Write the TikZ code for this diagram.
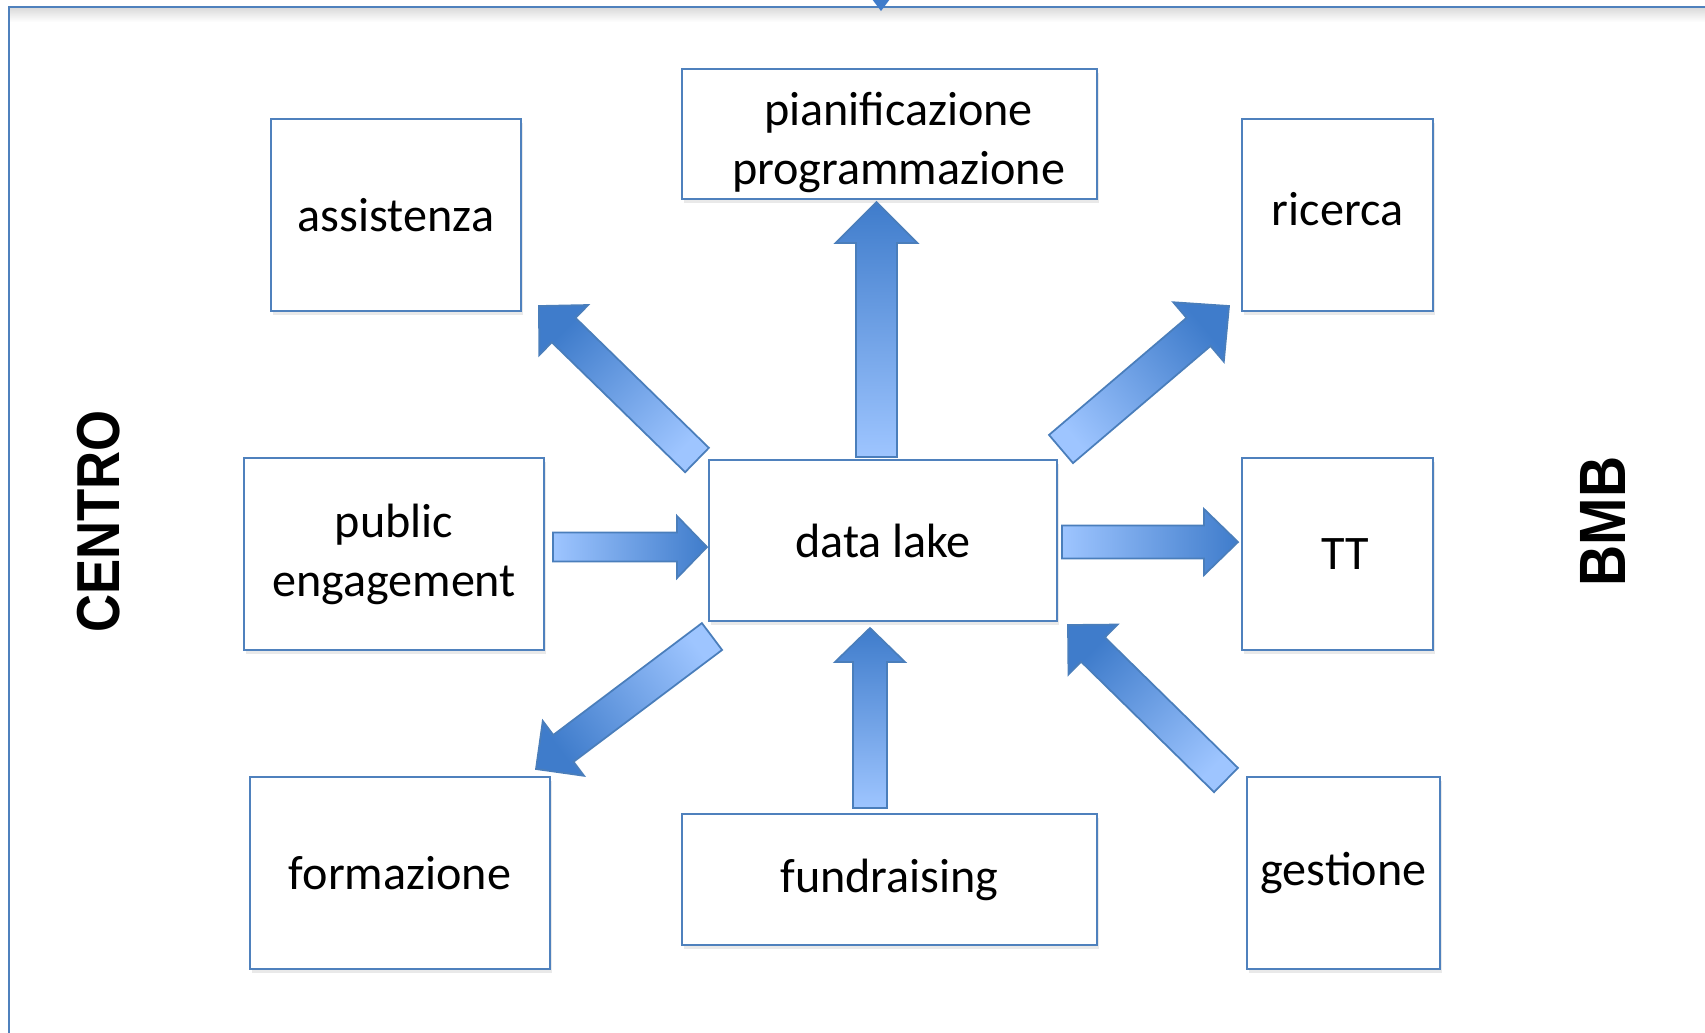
\documentclass[tikz,border=0pt]{standalone}
\usepackage{fontspec}
\setmainfont{Carlito}
\newfontfamily\sidefont{Liberation Sans}
\usetikzlibrary{calc,shadows}
\definecolor{boxblue}{HTML}{4F81BD}
\definecolor{headblue}{HTML}{3F7CCB}
\definecolor{tailblue}{HTML}{9EC5FF}
\definecolor{rimblue}{HTML}{4A7EBB}
\tikzstyle{frame}=[draw=boxblue, line width=0.7pt]
\tikzstyle{box}=[rectangle, draw=boxblue, line width=0.6pt, fill=white, align=center, inner sep=0pt, font=\fontsize{13.7}{16.8}\selectfont, drop shadow={shadow xshift=0.5pt, shadow yshift=-1.2pt, fill=black!14, opacity=0.6}]
\tikzstyle{inbox}=[align=center, inner sep=0pt, font=\fontsize{13.7}{16.8}\selectfont]
\tikzstyle{side}=[rotate=90, yscale=1.15, inner sep=0pt, font=\sidefont\bfseries\fontsize{15}{18}\selectfont]
\tikzstyle{fat}=[draw=rimblue, line width=0.5pt, top color=headblue, bottom color=tailblue]

% block arrow: tail, tip, half shaft, half head, head length, shading angle
\newcommand{\fatarrow}[6]{%
  \coordinate (#2base) at ($(#2)!#5!(#1)$);
  \draw[fat, shading angle=#6] ($(#1)!#3!90:(#2)$) -- ($(#2base)!#3!90:(#2)$) -- ($(#2base)!#4!90:(#2)$) -- (#2)
    -- ($(#2base)!#4!-90:(#2)$) -- ($(#2base)!#3!-90:(#2)$) -- ($(#1)!#3!-90:(#2)$) -- cycle;}

\begin{document}
\begin{tikzpicture}
				\useasboundingbox (0,0) rectangle (17.05,-10.32);

				%The frame
				\shade[top color=black!14, bottom color=white] (0.1,-0.08) rectangle (17.05,-0.22);
				\draw[frame] (0.09,-10.4) |- (17.1,-0.07);
				\fill[headblue] (8.69,0.05) -- (8.93,0.05) -- (8.81,-0.11) -- cycle;

				\draw (0.99,-5.215) node[side] (centro) {CENTRO};
				\draw (16.03,-5.215) node[side, font=\sidefont\bfseries\fontsize{16.2}{19}\selectfont] (bmb) {BMB};

				%The boxes
				\draw (8.895,-1.34) node[box, minimum width=4.15cm, minimum height=1.30cm, label={[inbox, name=piantext, xshift=0.09cm, yshift=-0.08cm]center:pianificazione\\programmazione}] (pian) {};
				\draw (3.96,-2.15) node[box, minimum width=2.50cm, minimum height=1.92cm] (assist) {assistenza};
				\draw (13.375,-2.15) node[box, minimum width=1.91cm, minimum height=1.92cm, label={[inbox, name=rictext, yshift=0.06cm]center:ricerca}] (ricerca) {};
				\draw (3.94,-5.54) node[box, minimum width=3.00cm, minimum height=1.92cm] (public) {public\\engagement};
				\draw (8.83,-5.405) node[box, minimum width=3.48cm, minimum height=1.61cm] (lake) {data lake};
				\draw (13.375,-5.54) node[box, minimum width=1.91cm, minimum height=1.92cm, label={[inbox, name=tttext, xshift=0.08cm]center:TT}] (tt) {};
				\draw (4.00,-8.73) node[box, minimum width=3.00cm, minimum height=1.92cm] (form) {formazione};
				\draw (8.895,-8.795) node[box, minimum width=4.15cm, minimum height=1.31cm] (fund) {fundraising};
				\draw (13.435,-8.73) node[box, minimum width=1.93cm, minimum height=1.92cm] (gest) {gestione};

				%The arrows
				\coordinate (t1) at (8.765,-4.57);  \coordinate (h1) at (8.765,-2.02);
				\coordinate (t2) at (6.97,-4.60);   \coordinate (h2) at (5.39,-3.06);
				\coordinate (t3) at (10.61,-4.49);  \coordinate (h3) at (12.29,-3.06);
				\coordinate (t4) at (5.53,-5.47);   \coordinate (h4) at (7.07,-5.47);
				\coordinate (t5) at (10.62,-5.42);  \coordinate (h5) at (12.38,-5.42);
				\coordinate (t6) at (7.12,-6.365);  \coordinate (h6) at (5.36,-7.69);
				\coordinate (t7) at (8.70,-8.08);   \coordinate (h7) at (8.70,-6.28);
				\coordinate (t8) at (12.26,-7.80);  \coordinate (h8) at (10.68,-6.25);

				\fatarrow{t1}{h1}{0.205cm}{0.41cm}{0.41cm}{0}
				\fatarrow{t2}{h2}{0.17cm}{0.35cm}{0.345cm}{45}
				\fatarrow{t3}{h3}{0.185cm}{0.39cm}{0.40cm}{-50}
				\fatarrow{t4}{h4}{0.145cm}{0.31cm}{0.30cm}{-90}
				\fatarrow{t5}{h5}{0.165cm}{0.33cm}{0.34cm}{-90}
				\fatarrow{t6}{h6}{0.168cm}{0.343cm}{0.343cm}{127}
				\fatarrow{t7}{h7}{0.17cm}{0.35cm}{0.34cm}{0}
				\fatarrow{t8}{h8}{0.17cm}{0.35cm}{0.35cm}{45}
			\end{tikzpicture}
\end{document}
